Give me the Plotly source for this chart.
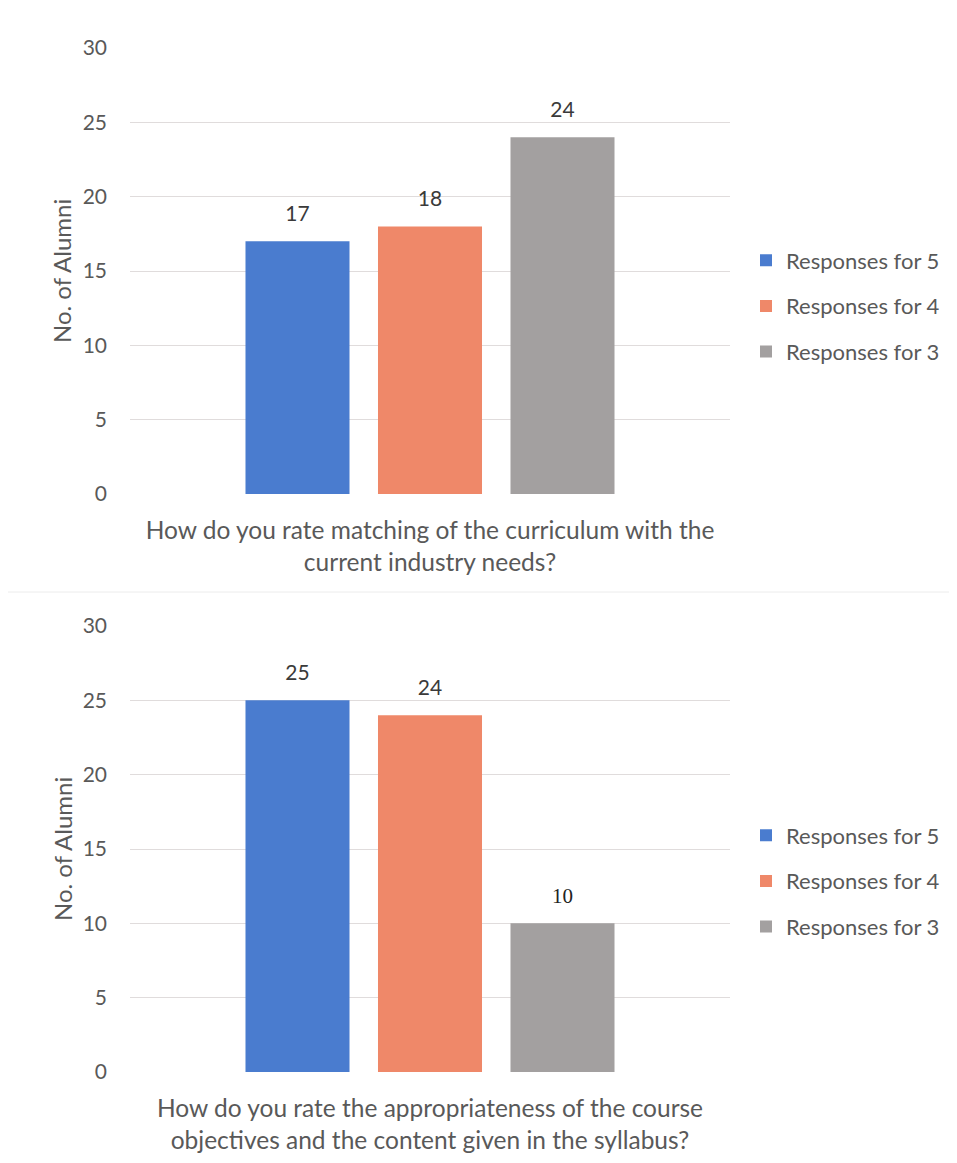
import plotly.graph_objects as go

# ---- data ----
questions = [
    "How do you rate matching of the curriculum with the<br>current industry needs?",
    "How do you rate the appropriateness of the course<br>objectives and the content given in the syllabus?",
]
series_names = ["Responses for 5", "Responses for 4", "Responses for 3"]
responses_q1 = [17, 18, 24]
responses_q2 = [25, 24, 10]
y_ticks = [0, 5, 10, 15, 20, 25, 30]
y_title = "No. of Alumni"

colors = ["#4a7ccf", "#ef8869", "#a3a0a0"]
OFF = 8                      # page body margin
W, H = 957 - 2 * OFF, 1163 - 2 * OFF
FONT = "Lato, 'Open Sans', sans-serif"
GREY = "#595959"
BARGAP = 0.3375


def fx(px):
    return (px - OFF) / W


def fy(py):
    return 1 - (py - OFF) / H


fig = go.Figure()
all_vals = [responses_q1, responses_q2]
for qi, (q, vals) in enumerate(zip(questions, all_vals)):
    xa = "x" if qi == 0 else "x2"
    ya = "y" if qi == 0 else "y2"
    lg = "legend" if qi == 0 else "legend2"
    for si, (name, v, c) in enumerate(zip(series_names, vals, colors)):
        fig.add_trace(go.Bar(
            x=[q], y=[v], name=name, marker_color=c, marker_line_width=0,
            xaxis=xa, yaxis=ya, legend=lg, legendgroup=f"g{qi}{si}",
            offsetgroup=str(si),
        ))
    for si, (name, v) in enumerate(zip(series_names, vals)):
        tf = dict(family=FONT, size=21, color="#3a3a3a")
        if qi == 1 and si == 2:
            tf = dict(family="'Liberation Serif', serif", size=21, color="#222222")
        fig.add_trace(go.Scatter(
            x=[q], y=[v], mode="markers+text", text=[v], textposition="top center",
            textfont=tf, marker=dict(size=22, opacity=0), cliponaxis=False,
            xaxis=xa, yaxis=ya, showlegend=False, hoverinfo="skip",
            offsetgroup=str(si),
        ))

xdom = [fx(130), fx(730)]
axis_common_x = dict(showgrid=False, showline=False, zeroline=False,
                     ticks="outside", ticklen=15, tickcolor="rgba(0,0,0,0)",
                     tickfont=dict(family=FONT, size=24.5, color=GREY))
axis_common_y = dict(range=[0, 30], tickvals=y_ticks, showline=False, zeroline=False,
                     gridcolor="#e0dcdc", gridwidth=1, ticklabelstandoff=22,
                     tickfont=dict(family=FONT, size=21, color=GREY))

leg_common = dict(xanchor="left", yanchor="middle",
                  font=dict(family=FONT, size=22, color=GREY),
                  traceorder="grouped", tracegroupgap=14, bgcolor="rgba(0,0,0,0)")

fig.update_layout(
    width=W, height=H,
    margin=dict(l=0, r=0, t=0, b=0, autoexpand=False),
    paper_bgcolor="white", plot_bgcolor="white",
    barmode="group", bargap=BARGAP, bargroupgap=0.215,
    scattermode="group", scattergap=BARGAP,
    font=dict(family=FONT, color=GREY),
    xaxis=dict(domain=xdom, anchor="y", **axis_common_x),
    yaxis=dict(domain=[fy(494), fy(48)], anchor="x", **axis_common_y),
    xaxis2=dict(domain=xdom, anchor="y2", **axis_common_x),
    yaxis2=dict(domain=[fy(1072), fy(626)], anchor="x2", **axis_common_y),
    legend=dict(x=fx(746), y=fy(306), **leg_common),
    legend2=dict(x=fx(746), y=fy(881), **leg_common),
    showlegend=True,
)

for yc in [(48 + 494) / 2, (626 + 1072) / 2]:
    fig.add_annotation(text=y_title, xref="paper", yref="paper", x=fx(62), y=fy(yc),
                       xanchor="center", yanchor="middle", textangle=-90, showarrow=False,
                       font=dict(family=FONT, size=24, color=GREY))

fig.add_shape(type="line", xref="paper", yref="paper", x0=0, x1=1, y0=fy(592), y1=fy(592),
              line=dict(color="#ececec", width=1))

fig.write_html("out.html")
